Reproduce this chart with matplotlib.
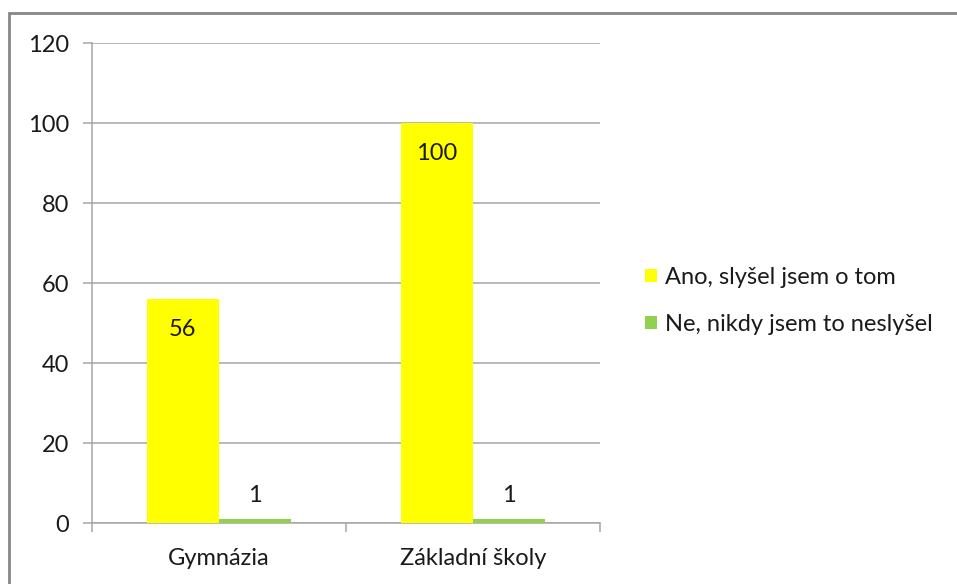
import matplotlib.pyplot as plt
import matplotlib.patches as mpatches
import numpy as np

categories = ['Gymnázia', 'Základní školy']
series_names = ['Ano, slyšel jsem o tom', 'Ne, nikdy jsem to neslyšel']
ano = [56, 100]
ne = [1, 1]
colors = ['#FFFF00', '#92D050']

plt.rcParams['font.family'] = ['Lato', 'DejaVu Sans']
W, H = 957, 584
fig = plt.figure(figsize=(W / 100, H / 100), dpi=100)
ax = fig.add_axes([92 / W, (H - 523) / H, (600 - 92) / W, (523 - 43) / H])

fs = 17
x = np.arange(len(categories))
bw = 0.285
b1 = ax.bar(x - bw / 2, ano, bw, color=colors[0], label=series_names[0], zorder=3)
b2 = ax.bar(x + bw / 2, ne, bw, color=colors[1], label=series_names[1], zorder=3)

for rect, v in zip(b1, ano):
    ax.annotate(str(v), (rect.get_x() + rect.get_width() / 2, v),
                xytext=(0, -31), textcoords='offset pixels',
                ha='center', va='center', fontsize=fs, color='#1a1a1a')
for rect, v in zip(b2, ne):
    ax.annotate(str(v), (rect.get_x() + rect.get_width() / 2, v),
                xytext=(0, 23), textcoords='offset pixels',
                ha='center', va='center', fontsize=fs, color='#1a1a1a')

ax.set_xlim(-0.5, len(categories) - 0.5)
ax.set_ylim(0, 120)
ax.set_yticks(range(0, 121, 20))
ax.yaxis.grid(True, color='#a6a6a6', linewidth=1.1, zorder=0)
ax.set_axisbelow(True)

ax.set_xticks(x)
ax.set_xticklabels(categories)
ax.set_xticks(np.arange(-0.5, len(categories)), minor=True)
ax.tick_params(axis='x', which='major', length=0, pad=18, labelsize=fs, labelcolor='#1a1a1a')
ax.tick_params(axis='x', which='minor', length=6.5, width=1.1, color='#a6a6a6', direction='out')
ax.tick_params(axis='y', length=6.5, width=1.1, color='#a6a6a6', pad=10, labelsize=fs, labelcolor='#1a1a1a')

for s in ['top', 'right']:
    ax.spines[s].set_visible(False)
ax.spines['left'].set_color('#a6a6a6')
ax.spines['bottom'].set_color('#a6a6a6')
ax.spines['left'].set_linewidth(1.1)
ax.spines['bottom'].set_linewidth(1.1)

fig.legend(handles=[b1, b2], labels=series_names, loc='center left',
           bbox_to_anchor=(624 / W, 1 - 301 / H), frameon=False,
           fontsize=fs, handlelength=0.5, handleheight=0.5, handletextpad=0.35,
           labelspacing=1.1, labelcolor='#1a1a1a')

fig.patches.append(mpatches.Rectangle((9 / W, -0.1), 1.1, 1 - 13 / H + 0.1,
                                      transform=fig.transFigure, fill=False,
                                      edgecolor='#868686', linewidth=2))

fig.savefig('out.png', dpi=100)
